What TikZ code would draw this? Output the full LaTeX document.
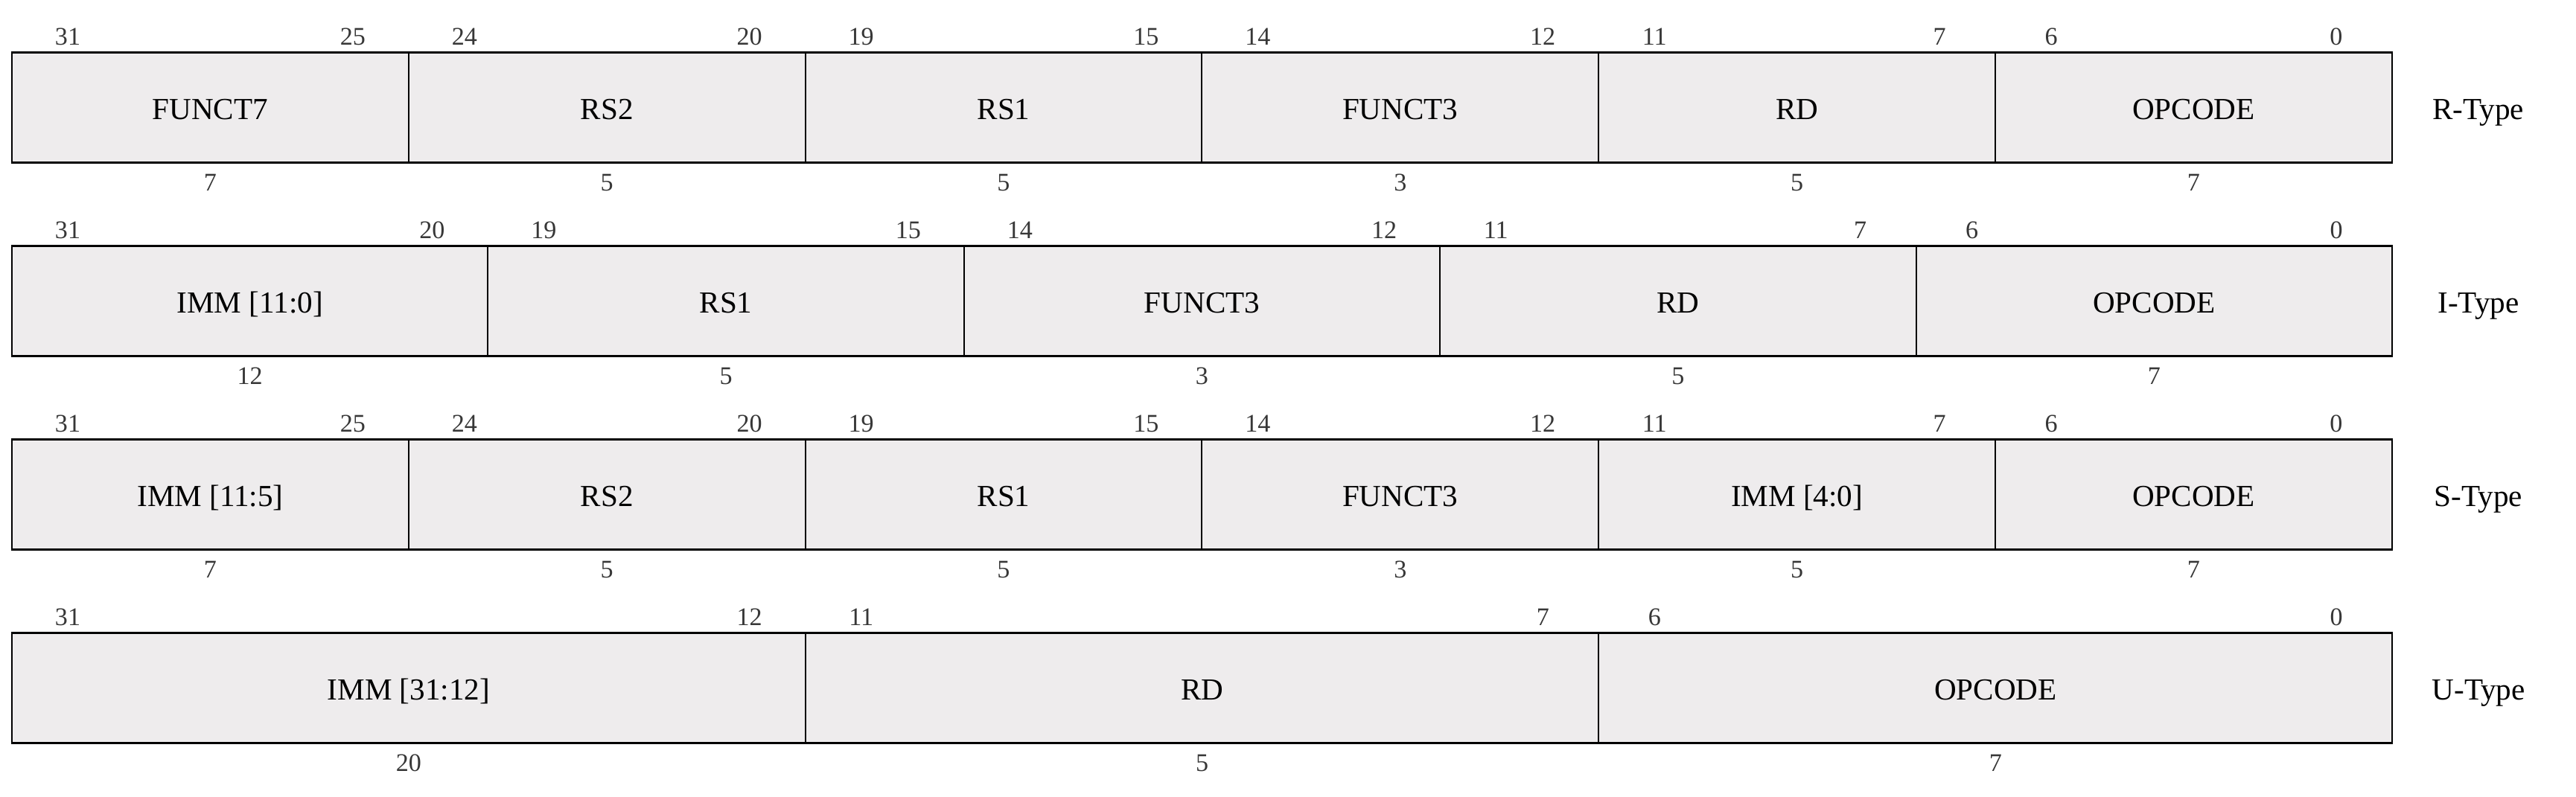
\documentclass[tikz,border=0pt]{standalone}
\usepackage{fontspec}
\setmainfont{Liberation Serif}
\usetikzlibrary{positioning}
\definecolor{cellgray}{RGB}{238,236,237}
\definecolor{bitgray}{RGB}{55,55,55}

\begin{document}
\begin{tikzpicture}[
    field/.style={rectangle, draw, fill=cellgray, line width=0.55pt, minimum height=14.8mm, inner sep=0pt, outer sep=0pt, text height=0.32cm, text depth=0pt, font=\fontsize{11.7}{13}\selectfont},
    bitnum/.style={text=bitgray, inner sep=0pt, font=\fontsize{9.7}{11}\selectfont},
    frame/.style={draw, line width=0.65pt},
    kind/.style={inner sep=0pt, text height=0.31cm, text depth=0pt, font=\fontsize{11.7}{13}\selectfont}]
  \useasboundingbox (0,0) rectangle (34.6,-10.7);

  % R-Type
  \begin{scope}[yshift=-0.706cm, xshift=0.16cm]
    \foreach \txt/\hi/\lo/\w [count=\i] in {FUNCT7/31/25/7, RS2/24/20/5, RS1/19/15/5, FUNCT3/14/12/3, RD/11/7/5, OPCODE/6/0/7} {
      \node[field, minimum width=5.328cm, anchor=north west] (r\i) at ({(\i-1)*5.328},0) {\txt};
      \node[bitnum] (r\i-hi) at ([shift={(0.75,0.215)}]r\i.north west) {\hi};
      \node[bitnum] (r\i-lo) at ([shift={(-0.75,0.215)}]r\i.north east) {\lo};
      \node[bitnum] (r\i-w) at ([yshift=-0.27cm]r\i.south) {\w};
    }
    \draw[frame] (r1.north west) rectangle (r6.south east);
    \node[kind, right=1.16cm of r6.east, anchor=center] (rtype) {R-Type};
  \end{scope}

  % I-Type
  \begin{scope}[yshift=-3.306cm, xshift=0.16cm]
    \foreach \txt/\hi/\lo/\w [count=\i] in {{IMM [11:0]}/31/20/12, RS1/19/15/5, FUNCT3/14/12/3, RD/11/7/5, OPCODE/6/0/7} {
      \node[field, minimum width=6.394cm, anchor=north west] (i\i) at ({(\i-1)*6.394},0) {\txt};
      \node[bitnum] (i\i-hi) at ([shift={(0.75,0.215)}]i\i.north west) {\hi};
      \node[bitnum] (i\i-lo) at ([shift={(-0.75,0.215)}]i\i.north east) {\lo};
      \node[bitnum] (i\i-w) at ([yshift=-0.27cm]i\i.south) {\w};
    }
    \draw[frame] (i1.north west) rectangle (i5.south east);
    \node[kind, right=1.16cm of i5.east, anchor=center] (itype) {I-Type};
  \end{scope}

  % S-Type
  \begin{scope}[yshift=-5.906cm, xshift=0.16cm]
    \foreach \txt/\hi/\lo/\w [count=\i] in {{IMM [11:5]}/31/25/7, RS2/24/20/5, RS1/19/15/5, FUNCT3/14/12/3, {IMM [4:0]}/11/7/5, OPCODE/6/0/7} {
      \node[field, minimum width=5.328cm, anchor=north west] (s\i) at ({(\i-1)*5.328},0) {\txt};
      \node[bitnum] (s\i-hi) at ([shift={(0.75,0.215)}]s\i.north west) {\hi};
      \node[bitnum] (s\i-lo) at ([shift={(-0.75,0.215)}]s\i.north east) {\lo};
      \node[bitnum] (s\i-w) at ([yshift=-0.27cm]s\i.south) {\w};
    }
    \draw[frame] (s1.north west) rectangle (s6.south east);
    \node[kind, right=1.16cm of s6.east, anchor=center] (stype) {S-Type};
  \end{scope}

  % U-Type
  \begin{scope}[yshift=-8.506cm, xshift=0.16cm]
    \foreach \txt/\hi/\lo/\w [count=\i] in {{IMM [31:12]}/31/12/20, RD/11/7/5, OPCODE/6/0/7} {
      \node[field, minimum width=10.657cm, anchor=north west] (u\i) at ({(\i-1)*10.657},0) {\txt};
      \node[bitnum] (u\i-hi) at ([shift={(0.75,0.215)}]u\i.north west) {\hi};
      \node[bitnum] (u\i-lo) at ([shift={(-0.75,0.215)}]u\i.north east) {\lo};
      \node[bitnum] (u\i-w) at ([yshift=-0.27cm]u\i.south) {\w};
    }
    \draw[frame] (u1.north west) rectangle (u3.south east);
    \node[kind, right=1.16cm of u3.east, anchor=center] (utype) {U-Type};
  \end{scope}
\end{tikzpicture}
\end{document}
